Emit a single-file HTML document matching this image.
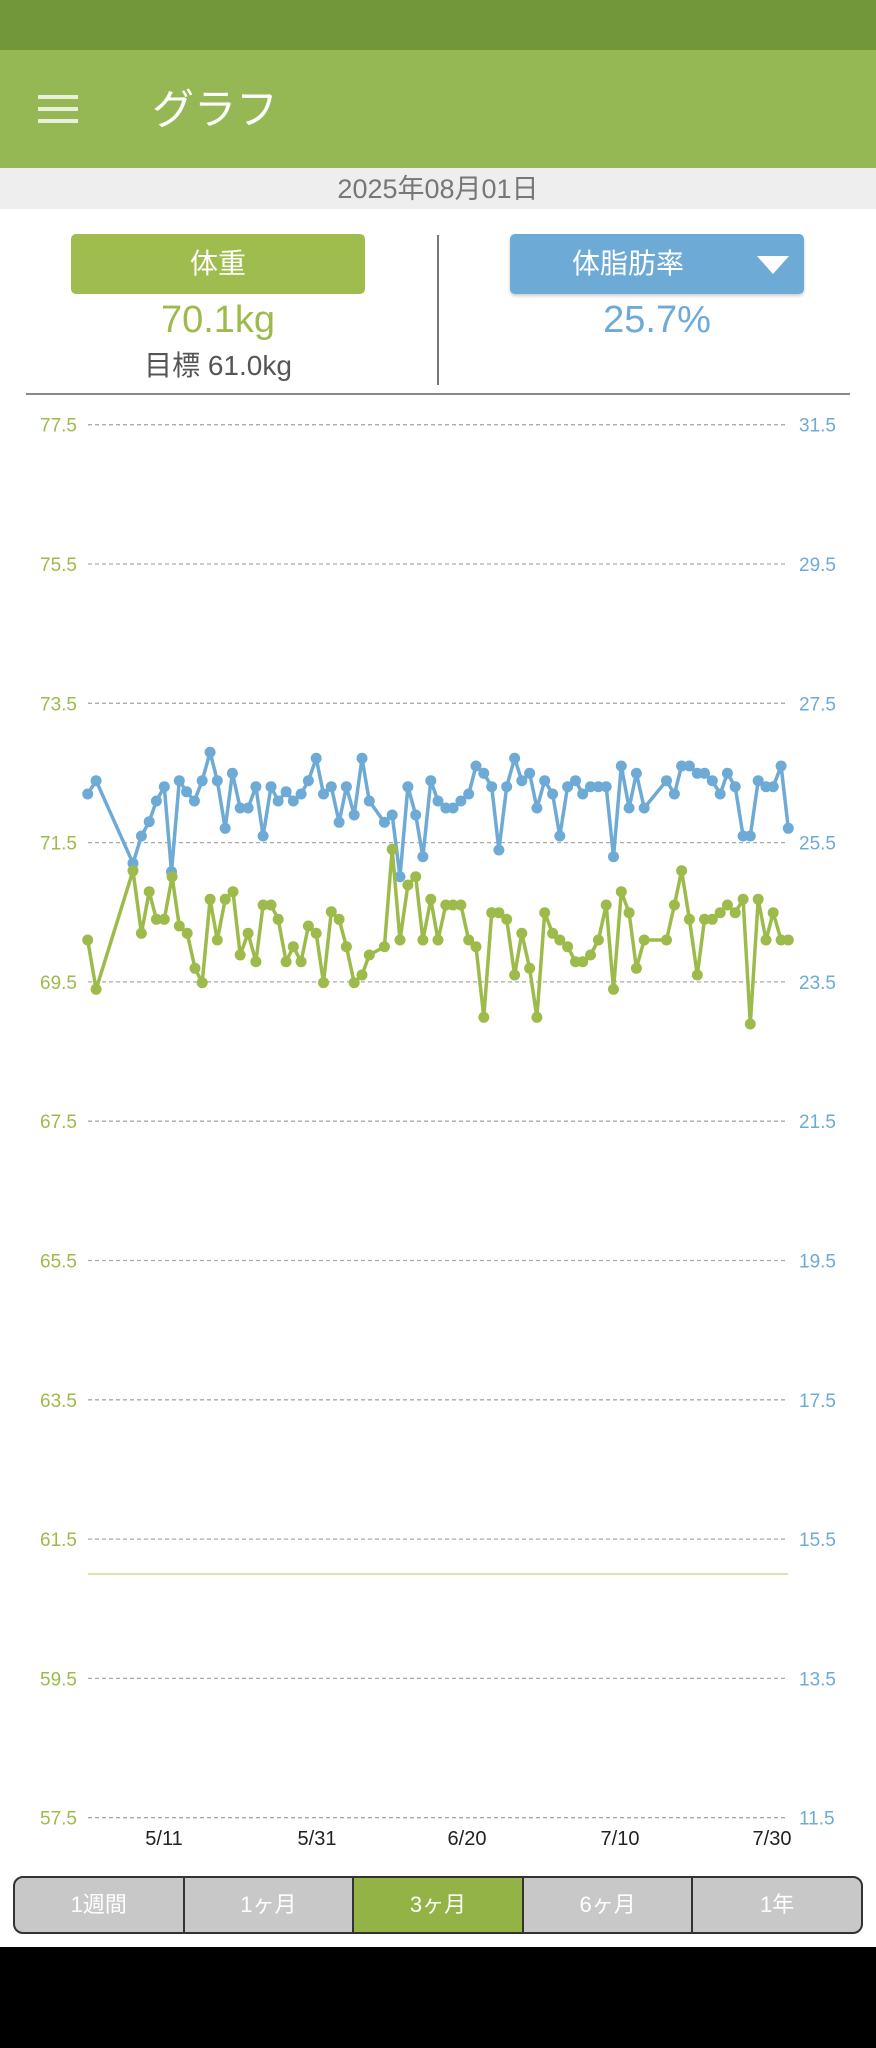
<!DOCTYPE html>
<html><head><meta charset="utf-8">
<style>
*{margin:0;padding:0;box-sizing:border-box}
body{width:876px;height:2048px;background:#fff;position:relative;overflow:hidden;font-family:"Liberation Sans","Noto Sans CJK JP",sans-serif}
.abs{position:absolute}
</style></head><body>
<div class="abs" style="left:0;top:0;width:876px;height:50px;background:#719739"></div>
<div class="abs" style="left:0;top:50px;width:876px;height:118px;background:#95b854"></div>
<div class="abs" style="left:38px;top:95px;width:40px;height:4px;background:#e8f0dc"></div>
<div class="abs" style="left:38px;top:107px;width:40px;height:4px;background:#e8f0dc"></div>
<div class="abs" style="left:38px;top:119px;width:40px;height:4px;background:#e8f0dc"></div>
<div class="abs" style="left:152px;top:85px;font-size:42px;color:#fff;line-height:50px">グラフ</div>
<div class="abs" style="left:0;top:168px;width:876px;height:41px;background:#eeeeee;text-align:center;font-size:27px;line-height:42px;color:#777">2025年08月01日</div>
<div class="abs" style="left:71px;top:234px;width:294px;height:60px;background:#9fbc4e;border-radius:5px;color:#fff;font-size:28px;text-align:center;line-height:60px">体重</div>
<div class="abs" style="left:510px;top:234px;width:294px;height:60px;background:#6eaad6;border-radius:5px;color:#fff;font-size:28px;line-height:60px;padding-left:62px;box-shadow:0 2px 3px rgba(0,0,0,.2)">体脂肪率</div>
<div class="abs" style="left:757px;top:256px;width:0;height:0;border-left:16px solid transparent;border-right:16px solid transparent;border-top:18px solid #fff"></div>
<div class="abs" style="left:71px;top:298px;width:294px;text-align:center;font-size:38px;color:#9dbb4b;line-height:44px">70.1kg</div>
<div class="abs" style="left:510px;top:298px;width:294px;text-align:center;font-size:38px;color:#6eaad6;line-height:44px">25.7%</div>
<div class="abs" style="left:71px;top:348px;width:294px;text-align:center;font-size:28px;color:#555;line-height:36px">目標 61.0kg</div>
<div class="abs" style="left:437px;top:235px;width:2px;height:150px;background:#777"></div>
<div class="abs" style="left:26px;top:393px;width:824px;height:2px;background:#888"></div>
<svg class="abs" style="left:0;top:0" width="876" height="2048" id="ch"></svg>
<div class="abs" style="left:13px;top:1876px;width:850px;height:58px;border:2px solid #333;border-radius:10px;overflow:hidden;display:flex;background:#c8c8c8">
<div style="flex:1;border-right:2px solid #333;color:#fff;font-size:22px;text-align:center;line-height:54px">1週間</div>
<div style="flex:1;border-right:2px solid #333;color:#fff;font-size:22px;text-align:center;line-height:54px">1ヶ月</div>
<div style="flex:1;border-right:2px solid #333;color:#fff;font-size:22px;text-align:center;line-height:54px;background:#94b347">3ヶ月</div>
<div style="flex:1;border-right:2px solid #333;color:#fff;font-size:22px;text-align:center;line-height:54px">6ヶ月</div>
<div style="flex:1;color:#fff;font-size:22px;text-align:center;line-height:54px">1年</div>
</div>
<div class="abs" style="left:0;top:1947px;width:876px;height:101px;background:#000"></div>
<script>
var s=document.getElementById('ch'),h='';
var L=['77.5','75.5','73.5','71.5','69.5','67.5','65.5','63.5','61.5','59.5','57.5'],R=['31.5','29.5','27.5','25.5','23.5','21.5','19.5','17.5','15.5','13.5','11.5'];
for(var i=0;i<11;i++){var y=424.7+i*139.3;
h+='<line x1="88" x2="788" y1="'+y+'" y2="'+y+'" stroke="#aaa" stroke-width="1.3" stroke-dasharray="4,3"/>';
h+='<text x="77" y="'+(y+7)+'" text-anchor="end" font-size="19" fill="#9dbb4b" font-family="Liberation Sans">'+L[i]+'</text>';
h+='<text x="799" y="'+(y+7)+'" font-size="19" fill="#6eaad6" font-family="Liberation Sans">'+R[i]+'</text>';}
h+='<line x1="88" x2="788" y1="1574" y2="1574" stroke="#d6e4b0" stroke-width="2"/>';
var X=[['5/11',164],['5/31',317],['6/20',467],['7/10',620],['7/30',772]];
X.forEach(function(a){h+='<text x="'+a[1]+'" y="1845" text-anchor="middle" font-size="20" fill="#222" font-family="Liberation Sans">'+a[0]+'</text>';});
var B=[[157,222],[172,182],[238,430],[253,348],[267,305],[280,243],[294,200],[307,455],[321,182],[334,215],[348,243],[362,182],[376,97],[389,182],[403,325],[416,160],[430,264],[444,264],[458,200],[471,348],[485,200],[498,243],[512,215],[525,243],[539,222],[552,182],[566,115],[579,222],[593,200],[607,307],[620,200],[634,285],[648,115],[661,243],[688,307],[702,285],[716,470],[730,200],[744,285],[757,410],[771,182],[784,243],[798,264],[811,264],[825,243],[839,222],[852,138],[866,160],[880,200],[893,390],[907,200],[921,115],[934,182],[948,160],[961,264],[975,182],[989,222],[1002,348],[1016,200],[1030,182],[1043,222],[1057,200],[1071,200],[1085,200],[1098,410],[1112,138],[1126,264],[1139,160],[1153,264],[1193,182],[1207,222],[1220,138],[1234,138],[1248,160],[1261,160],[1275,182],[1289,222],[1302,160],[1316,200],[1330,348],[1343,348],[1357,182],[1371,200],[1384,200],[1398,138],[1411,325]];
var G=[[157,660],[172,808],[238,452],[253,640],[267,515],[280,598],[294,598],[308,470],[321,618],[335,640],[349,745],[362,788],[376,538],[389,660],[403,538],[417,515],[430,705],[444,640],[458,725],[471,555],[485,555],[498,598],[512,725],[525,680],[539,725],[552,618],[566,640],[579,788],[593,575],[607,598],[620,680],[634,788],[648,765],[661,705],[688,680],[702,388],[716,660],[730,495],[744,470],[757,660],[771,538],[784,660],[798,555],[811,555],[825,555],[839,660],[852,680],[866,892],[880,578],[893,578],[907,598],[921,765],[934,640],[948,745],[961,892],[975,578],[989,640],[1002,660],[1016,680],[1030,725],[1043,725],[1057,705],[1071,660],[1085,555],[1098,808],[1112,515],[1126,578],[1139,745],[1153,660],[1193,660],[1207,555],[1220,452],[1234,598],[1248,765],[1261,598],[1275,598],[1289,578],[1302,555],[1316,578],[1330,538],[1343,912],[1357,538],[1371,660],[1384,578],[1398,660],[1411,660]];
function ser(d,c){var p=d.map(function(a){return (a[0]*0.5587).toFixed(1)+','+(720+a[1]/3).toFixed(1)});
var o='<polyline points="'+p.join(' ')+'" fill="none" stroke="'+c+'" stroke-width="3.5" stroke-linejoin="round"/>';
p.forEach(function(q){var t=q.split(',');o+='<circle cx="'+t[0]+'" cy="'+t[1]+'" r="5.5" fill="'+c+'"/>';});return o;}
h+=ser(B,'#6eaad6')+ser(G,'#9dbb4b');
s.innerHTML=h;
</script>
</body></html>
